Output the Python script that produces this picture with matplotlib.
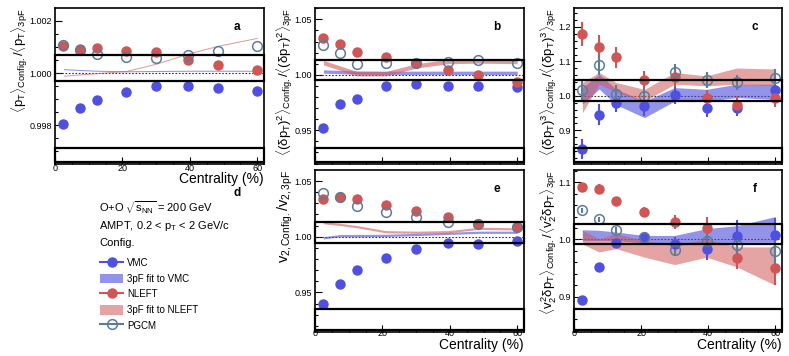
import matplotlib
matplotlib.use("Agg")
import matplotlib.pyplot as plt
from matplotlib.patches import Rectangle, Patch
from matplotlib.lines import Line2D
from matplotlib.ticker import MultipleLocator, FormatStrFormatter

plt.rcParams['font.family'] = ['Liberation Sans', 'DejaVu Sans']
plt.rcParams['mathtext.fontset'] = 'custom'
plt.rcParams['mathtext.rm'] = 'Liberation Sans'
plt.rcParams['mathtext.it'] = 'Liberation Sans'
plt.rcParams['mathtext.bf'] = 'Liberation Sans:bold'

# centrality bin centres (%)
cent = [2.5, 7.5, 12.5, 21, 30, 39.5, 48.5, 60]

# panel a: <pT> ratio
a_vmc = [0.99807, 0.99865, 0.99898, 0.99929, 0.99949, 0.99949, 0.99942, 0.99933]
a_nleft = [1.00104, 1.00093, 1.00095, 1.00084, 1.00079, 1.00051, 1.00030, 1.00010]
a_pgcm = [1.00109, 1.00089, 1.00072, 1.00062, 1.00059, 1.00068, 1.00085, 1.00103]
a_fit_vmc = [1.00015, 1.00012, 1.00009, 1.00007, 1.00008, 1.00009, 1.00009, 1.00009]
a_fit_nleft = [0.99990, 0.99995, 1.00000, 1.00008, 1.00036, 1.00075, 1.00105, 1.00135]

# panel b: <(dpT)^2> ratio
b_vmc = [0.9518, 0.9739, 0.9779, 0.9900, 0.9915, 0.9897, 0.9900, 0.9891]
b_nleft = [1.0333, 1.0279, 1.0203, 1.0164, 1.0103, 1.0042, 0.9997, 0.9936]
b_pgcm = [1.0270, 1.0194, 1.0097, 1.0106, 1.0106, 1.0118, 1.0136, 1.0103]
b_fit_vmc = [1.0030, 1.0025, 1.0020, 1.0018, 1.0018, 1.0018, 1.0018, 1.0018]
b_fit_nleft = [1.0110, 1.0060, 1.0010, 1.0010, 1.0080, 1.0120, 1.0125, 1.0120]

# panel c: <(dpT)^3> ratio
c_vmc = [0.846, 0.946, 0.980, 0.971, 1.002, 0.964, 0.964, 1.017]
c_vmc_err = [0.030, 0.030, 0.028, 0.028, 0.025, 0.025, 0.022, 0.025]
c_nleft = [1.179, 1.141, 1.112, 1.046, 1.055, 0.993, 0.974, 0.995]
c_nleft_err = [0.035, 0.035, 0.030, 0.025, 0.028, 0.025, 0.025, 0.028]
c_pgcm = [1.017, 1.090, 1.005, 1.000, 1.070, 1.046, 1.039, 1.052]
c_pgcm_err = [0.028, 0.030, 0.028, 0.025, 0.022, 0.022, 0.022, 0.025]
c_fit_vmc_lo = [0.976, 1.020, 0.975, 0.937, 0.985, 0.985, 0.995, 0.990]
c_fit_vmc_hi = [1.024, 1.063, 1.020, 0.985, 1.024, 1.019, 1.034, 1.034]
c_fit_nleft_lo = [0.951, 1.034, 1.010, 0.985, 1.034, 1.029, 1.034, 1.029]
c_fit_nleft_hi = [1.039, 1.068, 1.039, 1.019, 1.068, 1.058, 1.081, 1.078]

# panel e: v2 ratio
e_vmc = [0.9395, 0.9572, 0.9698, 0.9805, 0.9889, 0.9940, 0.9937, 0.9961]
e_nleft = [1.0335, 1.0353, 1.0335, 1.0287, 1.0234, 1.0174, 1.0111, 1.0084]
e_pgcm = [1.0395, 1.0353, 1.0278, 1.0225, 1.0180, 1.0135, 1.0111, 1.0084]
e_fit_vmc = [0.9990, 1.0010, 1.0010, 1.0012, 1.0020, 1.0030, 1.0040, 1.0040]
e_fit_nleft = [1.0126, 1.0110, 1.0090, 1.0045, 1.0040, 1.0045, 1.0075, 1.0070]

# panel f: <v2^2 dpT> ratio
f_vmc = [0.894, 0.951, 0.994, 1.004, 0.992, 0.984, 1.006, 1.007]
f_vmc_err = [0.005, 0.005, 0.006, 0.008, 0.012, 0.020, 0.028, 0.030]
f_nleft = [1.0915, 1.0886, 1.067, 1.048, 1.030, 1.020, 0.968, 0.950]
f_nleft_err = [0.008, 0.008, 0.008, 0.008, 0.012, 0.020, 0.020, 0.030]
f_pgcm = [1.0507, 1.035, 1.0157, 1.004, 0.981, 0.998, 0.9895, 0.9796]
f_pgcm_err = [0.004, 0.005, 0.006, 0.008, 0.010, 0.020, 0.020, 0.030]
f_fit_vmc_lo = [0.998, 0.998, 0.998, 0.994, 0.990, 0.993, 0.995, 0.995]
f_fit_vmc_hi = [1.017, 1.016, 1.013, 1.007, 1.007, 1.019, 1.024, 1.040]
f_fit_nleft_lo = [0.992, 0.978, 0.984, 0.969, 0.956, 0.969, 0.952, 0.920]
f_fit_nleft_hi = [1.016, 1.001, 1.010, 0.998, 0.990, 1.001, 0.987, 0.987]

blue = '#5050e0'
red = '#d05555'
grey = '#5b7c9a'
blue_band = '#4b4bdc'
red_band = '#d05a5a'

fig = plt.figure(figsize=(7.89, 3.56), dpi=100)


def make_axes(rect, ylim, ymajor, yminor, fmt, letter, ylabel, xlab_y=None, tick_pad=0,
              ylab_size=9.5):
    ax = fig.add_axes(rect)
    ax.set_xlim(0, 62)
    ax.set_ylim(*ylim)
    ax.xaxis.set_major_locator(MultipleLocator(20))
    ax.xaxis.set_minor_locator(MultipleLocator(5))
    ax.yaxis.set_major_locator(MultipleLocator(ymajor))
    ax.yaxis.set_minor_locator(MultipleLocator(yminor))
    ax.yaxis.set_major_formatter(FormatStrFormatter(fmt))
    ax.tick_params(which='both', direction='in', labelsize=6.5, pad=2)
    ax.tick_params(axis='x', pad=tick_pad)
    ax.tick_params(which='major', length=5, width=0.8)
    ax.tick_params(which='minor', length=2.5, width=0.8)
    for s in ax.spines.values():
        s.set_linewidth(1.2)
    if xlab_y is not None:
        ax.set_xlabel('Centrality (%)', fontsize=10, ha='right')
        ax.xaxis.set_label_coords(1.0, xlab_y)
    else:
        ax.tick_params(axis='x', labelbottom=False)
    ax.set_ylabel(ylabel, loc='top', fontsize=ylab_size, labelpad=0)
    ax.axhline(1.0, color='#333333', ls=(0, (1.5, 1.5)), lw=0.8, zorder=2)
    ax.text(0.87, 0.88, letter, transform=ax.transAxes, fontsize=8.5,
            fontweight='bold', ha='center', va='center')
    return ax


def add_boxes(ax, box, low):
    # black frames that sit across each panel in the original figure
    ax.add_patch(Rectangle((0, box[0]), 1, box[1] - box[0], transform=ax.transAxes,
                           fill=False, ec='black', lw=1.6, zorder=6, clip_on=False))
    ax.add_patch(Rectangle((0, low[0]), 1, low[1] - low[0], transform=ax.transAxes,
                           fill=False, ec='black', lw=1.6, zorder=6, clip_on=False))


def draw_points(ax, vmc, nleft, pgcm, errs=None):
    if errs is None:
        errs = [None, None, None]
    ax.errorbar(cent, vmc, yerr=errs[0], fmt='o', color=blue, ms=6.5, elinewidth=1.5,
                capsize=0, zorder=5)
    ax.errorbar(cent, nleft, yerr=errs[1], fmt='o', color=red, ms=6.5, elinewidth=1.5,
                capsize=0, zorder=5)
    ax.errorbar(cent, pgcm, yerr=errs[2], fmt='o', color=grey, mfc='none', mec=grey,
                mew=1.1, ms=7, elinewidth=1.5, capsize=0, zorder=5)


def thin_band(ax, vals, width, color, alpha):
    lo = [v - width for v in vals]
    hi = [v + width for v in vals]
    ax.fill_between(cent, lo, hi, color=color, alpha=alpha, lw=0, zorder=3)


row1_y, row1_h = 0.5407, 0.436
row2_y, row2_h = 0.0674, 0.455

# a
ax = make_axes([0.0697, row1_y, 0.2649, row1_h], (0.99654, 1.00248), 0.002, 0.0005, '%.3f', 'a',
               r'$\langle p_{\rm T}\rangle_{\rm Config.}/\langle p_{\rm T}\rangle_{\rm 3pF}$',
               xlab_y=-0.055, tick_pad=0)
thin_band(ax, a_fit_vmc, 0.00002, blue_band, 0.6)
thin_band(ax, a_fit_nleft, 0.00002, red_band, 0.6)
draw_points(ax, a_vmc, a_nleft, a_pgcm)
add_boxes(ax, (0.534, 0.699), (0.01, 0.10))

# b
ax = make_axes([0.3992, row1_y, 0.2649, row1_h], (0.920, 1.060), 0.05, 0.01, '%.2f', 'b',
               r'$\langle(\delta p_{\rm T})^2\rangle_{\rm Config.}/\langle(\delta p_{\rm T})^2\rangle_{\rm 3pF}$')
thin_band(ax, b_fit_vmc, 0.0015, blue_band, 0.6)
thin_band(ax, b_fit_nleft, 0.002, red_band, 0.6)
draw_points(ax, b_vmc, b_nleft, b_pgcm)
add_boxes(ax, (0.538, 0.668), (0.01, 0.10))

# c
ax = make_axes([0.7275, row1_y, 0.2636, row1_h], (0.804, 1.254), 0.1, 0.02, '%.1f', 'c',
               r'$\langle(\delta p_{\rm T})^3\rangle_{\rm Config.}/\langle(\delta p_{\rm T})^3\rangle_{\rm 3pF}$')
ax.fill_between(cent, c_fit_vmc_lo, c_fit_vmc_hi, color=blue_band, alpha=0.6, lw=0, zorder=3)
ax.fill_between(cent, c_fit_nleft_lo, c_fit_nleft_hi, color=red_band, alpha=0.55, lw=0, zorder=3)
draw_points(ax, c_vmc, c_nleft, c_pgcm, [c_vmc_err, c_nleft_err, c_pgcm_err])
add_boxes(ax, (0.405, 0.538), (0.01, 0.10))

# e
ax = make_axes([0.3992, row2_y, 0.2649, row2_h], (0.9144, 1.0599), 0.05, 0.01, '%.2f', 'e',
               r'$v_{\rm 2,Config.}/v_{\rm 2,3pF}$', xlab_y=-0.04, tick_pad=-2.5,
               ylab_size=10.5)
thin_band(ax, e_fit_vmc, 0.001, blue_band, 0.6)
thin_band(ax, e_fit_nleft, 0.001, red_band, 0.6)
draw_points(ax, e_vmc, e_nleft, e_pgcm)
add_boxes(ax, (0.551, 0.681), (0.01, 0.14))

# f
ax = make_axes([0.7275, row2_y, 0.2636, row2_h], (0.838, 1.1215), 0.1, 0.02, '%.1f', 'f',
               r'$\langle v_2^2\delta p_{\rm T}\rangle_{\rm Config.}/\langle v_2^2\delta p_{\rm T}\rangle_{\rm 3pF}$',
               xlab_y=-0.04, tick_pad=-2.5)
ax.fill_between(cent, f_fit_vmc_lo, f_fit_vmc_hi, color=blue_band, alpha=0.6, lw=0, zorder=3)
ax.fill_between(cent, f_fit_nleft_lo, f_fit_nleft_hi, color=red_band, alpha=0.55, lw=0, zorder=3)
draw_points(ax, f_vmc, f_nleft, f_pgcm, [f_vmc_err, f_nleft_err, f_pgcm_err])
add_boxes(ax, (0.542, 0.667), (0.01, 0.14))

# d: legend panel
fig.text(237 / 789, 1 - 193 / 356, 'd', fontsize=8.5, fontweight='bold', ha='center', va='center')
fig.text(99 / 789, 1 - 208 / 356, r'O+O $\sqrt{s_{\rm NN}}$ = 200 GeV', fontsize=8, va='center')
fig.text(99 / 789, 1 - 226 / 356, r'AMPT, 0.2 < $p_{\rm T}$ < 2 GeV/c', fontsize=8, va='center')
fig.text(99 / 789, 1 - 243 / 356, 'Config.', fontsize=8, va='center')

handles = [
    Line2D([], [], color=blue, marker='o', ms=6.5, lw=1.5),
    Patch(color=blue_band, alpha=0.6, lw=0),
    Line2D([], [], color=red, marker='o', ms=6.5, lw=1.5),
    Patch(color=red_band, alpha=0.55, lw=0),
    Line2D([], [], color=grey, marker='o', mfc='none', mec=grey, mew=1.1, ms=7, lw=1.5),
]
names = ['VMC', '3pF fit to VMC', 'NLEFT', '3pF fit to NLEFT', 'PGCM']
fig.legend(handles, names, loc='upper left', bbox_to_anchor=(96 / 789, 1 - 254 / 356),
           frameon=False, fontsize=7, handlelength=2.4, handleheight=1.2,
           labelspacing=0.55, handletextpad=0.4, borderaxespad=0)

fig.savefig('out.png', dpi=100)
